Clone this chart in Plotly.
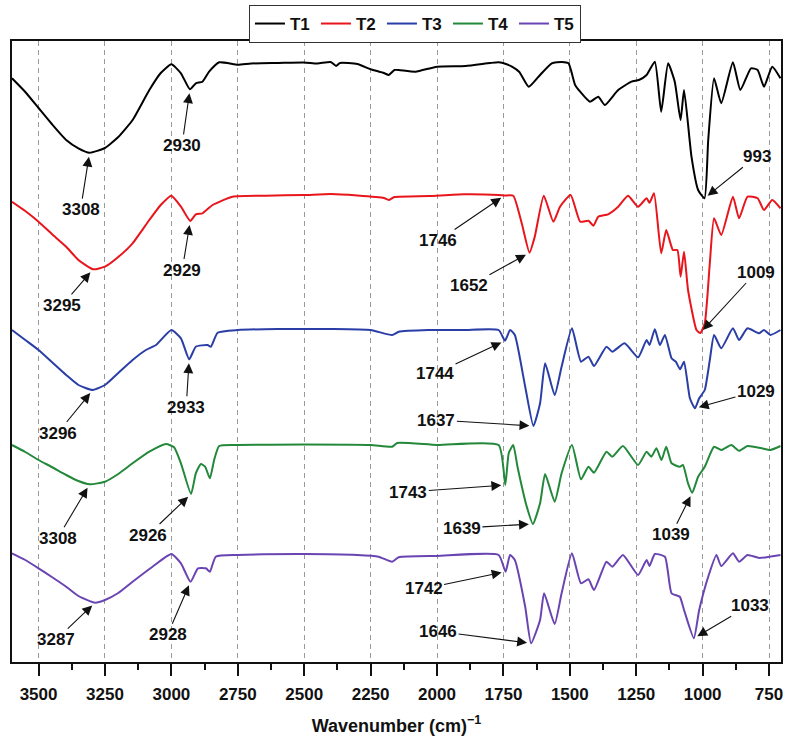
import plotly.graph_objects as go

# FTIR spectra of samples T1-T5, stacked with vertical offsets (arbitrary units)
wn_T1 = [3600, 3550, 3500, 3450, 3396, 3350, 3308, 3250, 3200, 3146, 3083, 3040, 3000, 2964, 2930, 2908,
         2883, 2858, 2820, 2750, 2700, 2600, 2500, 2450, 2400, 2380, 2365, 2300, 2250, 2200, 2182, 2160,
         2144, 2081, 2000, 1893, 1800, 1768, 1740, 1718, 1690, 1655, 1618, 1568, 1530, 1505, 1480, 1461,
         1424, 1393, 1368, 1318, 1268, 1240, 1211, 1180, 1156, 1130, 1105, 1083, 1070, 1042, 1017, 993,
         979, 957, 930, 886, 858, 818, 793, 769, 738, 707]
T1 = [595.7, 582, 566, 550, 534, 525.7, 521.3, 526, 537, 554, 584, 601, 609.7, 600.7, 584.7, 590.7,
      592.3, 602.3, 611.7, 609.3, 610.5, 611, 611.5, 610.5, 612, 608, 611, 610, 604.7, 601, 599, 604,
      604, 602.3, 607.3, 608, 611, 611.7, 610, 607.3, 602, 587.3, 597.3, 610.7, 612, 610.7, 589, 582.3,
      572.3, 577.3, 569, 584, 592.3, 594, 599, 612.3, 562.3, 610.7, 592.3, 554, 584, 517.3, 484, 475.7,
      534, 595.7, 570.7, 611.7, 584, 605.7, 604, 587.3, 607.3, 595.7]

wn_T2 = [3600, 3550, 3500, 3450, 3396, 3350, 3295, 3250, 3200, 3146, 3083, 3040, 3000, 2964, 2929, 2908,
         2883, 2845, 2770, 2645, 2500, 2400, 2300, 2200, 2182, 2160, 2031, 1900, 1768, 1746, 1713, 1681,
         1652, 1632, 1598, 1562, 1537, 1497, 1461, 1430, 1411, 1393, 1356, 1318, 1281, 1243, 1211, 1200,
         1183, 1156, 1137, 1112, 1095, 1083, 1070, 1055, 1023, 1009, 992, 973, 957, 930, 886, 863, 831,
         793, 769, 738, 707]
T2 = [472.3, 463, 452.3, 440, 427.3, 414, 404.7, 407.3, 417, 430.7, 454, 469, 478.3, 467.3, 453, 459.7,
      460.7, 469, 477.3, 478.3, 479, 480, 478.5, 476, 474, 477, 478, 479.7, 479, 478.5, 478.3, 450.7,
      421.3, 437.3, 478.3, 452.3, 467.3, 479, 452.3, 453.3, 448.3, 457.3, 459.7, 467.3, 478.3, 467.3, 475.7, 471.3,
      480.7, 420.7, 444, 424, 424, 397.3, 422.3, 384, 344, 341, 350.7, 410.7, 455.7, 439, 477.3, 455.7, 477.3,
      475.7, 464, 474, 465.7]

wn_T3 = [3600, 3550, 3500, 3450, 3396, 3350, 3296, 3250, 3200, 3146, 3096, 3058, 3000, 2964, 2933, 2908,
         2864, 2851, 2826, 2750, 2600, 2400, 2250, 2169, 2144, 2031, 1900, 1768, 1744, 1725, 1707, 1668,
         1637, 1612, 1593, 1557, 1531, 1492, 1458, 1430, 1409, 1362, 1340, 1294, 1243, 1211, 1200, 1180,
         1161, 1142, 1117, 1101, 1085, 1070, 1048, 1029, 1013, 992, 973, 957, 930, 886, 863, 831, 787,
         769, 745, 707]
T3 = [344, 334, 324, 312, 299, 289, 284, 289, 301, 314, 324, 329, 344, 335.7, 314.7, 327.3,
      329, 327.3, 341.3, 344, 345, 345, 344, 339, 342.3, 344, 344, 344, 333.3, 344, 339, 287.3,
      248, 270.7, 310.7, 279, 307.3, 345.7, 312.3, 317.3, 308, 327.3, 322.3, 330.7, 316.7, 334, 329, 344.7,
      329, 339, 315.7, 312.3, 304.7, 312.3, 275.7, 265.7, 275.7, 284, 314, 339, 325.7, 345.7, 334, 345.7, 340.7,
      344, 339, 344]

wn_T4 = [3600, 3550, 3500, 3450, 3396, 3350, 3308, 3250, 3200, 3146, 3083, 3020, 2990, 2964, 2926, 2908,
         2889, 2873, 2855, 2839, 2820, 2750, 2500, 2250, 2169, 2150, 2000, 1768, 1743, 1730, 1713, 1697,
         1662, 1639, 1612, 1593, 1557, 1531, 1492, 1458, 1430, 1409, 1362, 1340, 1300, 1243, 1211, 1193,
         1174, 1155, 1137, 1117, 1086, 1074, 1055, 1039, 1017, 992, 957, 930, 892, 863, 831, 781, 745, 707]
T4 = [229, 222, 214, 207, 199, 193, 189.7, 192.3, 200, 210.7, 222.3, 230, 226.7, 210.7, 180, 200.7,
      210, 207.3, 195.7, 214, 228, 229, 229.5, 229, 227.3, 231, 229, 229, 189, 220.7, 229, 207.3,
      167.3, 150, 170.7, 200, 172.3, 200.7, 229, 194.7, 207.3, 201.3, 222.3, 217.3, 228, 209, 222.3, 217.3,
      225.7, 214, 227.3, 210.7, 207.3, 209, 190.7, 181.3, 197.3, 207.3, 227.3, 224, 229, 223.3, 228, 226, 224, 228]

wn_T5 = [3600, 3550, 3500, 3450, 3396, 3350, 3287, 3250, 3200, 3146, 3071, 3000, 2964, 2928, 2900, 2870,
         2855, 2833, 2750, 2500, 2300, 2220, 2169, 2144, 2000, 1768, 1742, 1725, 1707, 1668, 1646, 1612,
         1597, 1557, 1531, 1492, 1458, 1430, 1409, 1362, 1340, 1300, 1243, 1211, 1200, 1180, 1142, 1117,
         1086, 1070, 1033, 1013, 979, 948, 930, 886, 863, 831, 787, 707]
T5 = [120.7, 114, 105.7, 97, 87.3, 78, 71.3, 74, 81, 92.3, 107.3, 120, 110.7, 92.3, 105.7, 105.7,
      102.3, 117.3, 119, 120, 119, 117.3, 112.3, 116.7, 118, 119, 102.3, 119, 114, 67.3, 30.7, 54,
      80.7, 50, 80.7, 120.7, 90.7, 94.7, 84, 112.3, 107.3, 119, 99, 114, 108, 120, 117.3, 80.7,
      77.3, 64, 35.7, 64, 97.3, 119, 108, 120.7, 112.3, 119, 116, 119]

names = ["T1", "T2", "T3", "T4", "T5"]
xs = [wn_T1, wn_T2, wn_T3, wn_T4, wn_T5]
ys = [T1, T2, T3, T4, T5]
colors = ["#000000", "#e8161c", "#2a3ea6", "#23883a", "#6a44b2"]

# labelled band positions: (sample index, wavenumber)
peaks = [(0, 3308), (0, 2930), (0, 993),
         (1, 3295), (1, 2929), (1, 1746), (1, 1652), (1, 1009),
         (2, 3296), (2, 2933), (2, 1744), (2, 1637), (2, 1029),
         (3, 3308), (3, 2926), (3, 1743), (3, 1639), (3, 1039),
         (4, 3287), (4, 2928), (4, 1742), (4, 1646), (4, 1033)]
# label offsets from the arrow head, in pixels
offsets = [(-9, 57), (-8, 56), (52, -42),
           (-31, 36), (-8, 49), (-66, 45), (-60, 33), (56, -61),
           (-35, 43), (-3, 48), (-70, 33), (-97, -6), (61, -17),
           (-32, 54), (-43, 41), (-97, 7), (-71, 4), (-21, 42),
           (-39, 37), (-23, 53), (-82, 17), (-93, -12), (56, -33)]

FONT = "Liberation Sans, Arial, sans-serif"
TICKS = [3500, 3250, 3000, 2750, 2500, 2250, 2000, 1750, 1500, 1250, 1000, 750]

fig = go.Figure()
for n, x, y, c in zip(names, xs, ys, colors):
    fig.add_trace(go.Scatter(x=x, y=y, name=n, mode="lines",
                             line=dict(color=c, width=2, shape="spline", smoothing=0.5)))

annotations = []
for (i, w), (ax, ay) in zip(peaks, offsets):
    yv = ys[i][xs[i].index(w)]
    annotations.append(dict(
        x=w, y=yv, xref="x", yref="y", text=f"<b>{w}</b>",
        showarrow=True, ax=ax, ay=ay, arrowhead=2, arrowsize=1.8, arrowwidth=1.1,
        arrowcolor="#111111", standoff=4,
        font=dict(family=FONT, size=17, color="#111111")))

fig.update_layout(
    width=787, height=739,
    margin=dict(l=12, r=4, t=41, b=77),
    paper_bgcolor="white", plot_bgcolor="white",
    font=dict(family=FONT, color="#111111"),
    showlegend=True,
    legend=dict(orientation="h", x=0.524, xanchor="center", y=1.058, yanchor="top",
                bordercolor="#333333", borderwidth=1, bgcolor="white",
                font=dict(family=FONT, size=17, weight="bold"),
                entrywidth=21, itemwidth=30, tracegroupgap=0),
    annotations=annotations,
    xaxis=dict(
        range=[3600, 705], tickmode="array", tickvals=TICKS,
        ticks="outside", ticklen=12, tickwidth=1.5, tickcolor="#111111",
        minor=dict(dtick=125, tick0=0, ticks="outside", ticklen=6, tickwidth=1.5,
                   tickcolor="#111111", showgrid=False),
        showline=True, linecolor="#111111", linewidth=1.5, mirror=True,
        showgrid=True, gridcolor="#9a9a9a", gridwidth=1, griddash="5px,4px",
        zeroline=False, ticklabelstandoff=4,
        tickfont=dict(family=FONT, size=17, weight="bold", color="#111111"),
        title=dict(text="<b>Wavenumber (cm)<sup>−1</sup></b>", standoff=16,
                   font=dict(family=FONT, size=18, color="#111111")),
    ),
    xaxis2=dict(
        overlaying="x", side="top", matches="x", range=[3600, 705], tickmode="array",
        tickvals=TICKS,
        ticks="inside", ticklen=10, tickwidth=1.5, tickcolor="#111111",
        minor=dict(dtick=125, tick0=0, ticks="inside", ticklen=6, tickwidth=1.5,
                   tickcolor="#111111", showgrid=False),
        showticklabels=False, showgrid=False, showline=False, zeroline=False,
    ),
    yaxis=dict(range=[12, 633], showticklabels=False, ticks="", showgrid=False,
               zeroline=False, showline=True, linecolor="#111111", linewidth=1.5, mirror=True),
)

fig.write_html("out.html")
